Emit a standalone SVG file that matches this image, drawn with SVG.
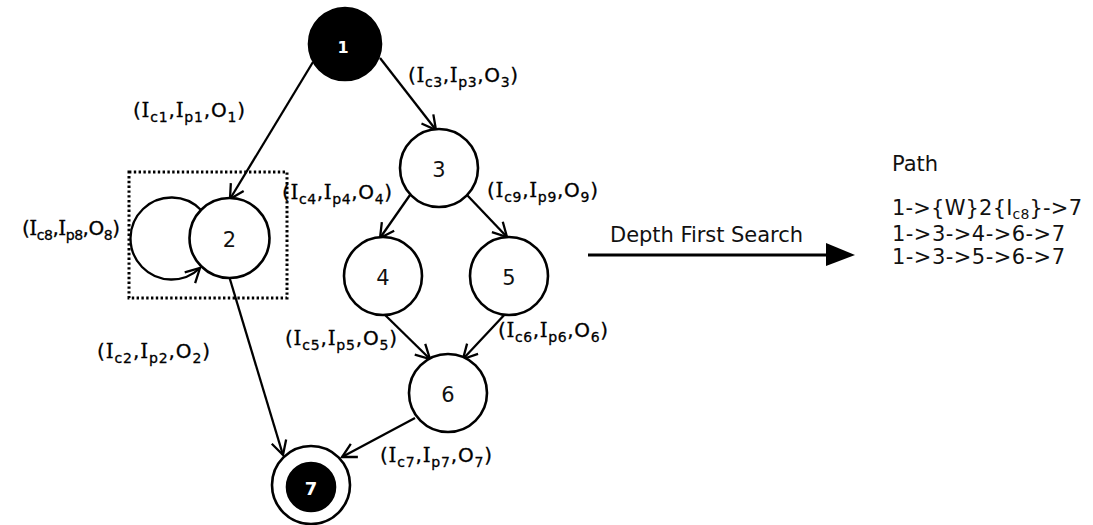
<svg xmlns="http://www.w3.org/2000/svg" width="1093" height="525" viewBox="0 0 1093 525">
<style>
.nd{fill:#fff;stroke:#000;stroke-width:2.6}
.blk{fill:#000;stroke:#000;stroke-width:2.6}
.num{font-family:"DejaVu Sans",Verdana,sans-serif;font-size:21px;fill:#111;text-anchor:middle}
.wnum{font-family:"DejaVu Sans",Verdana,sans-serif;font-weight:bold;fill:#fff;text-anchor:middle}
.edge{fill:none;stroke:#000;stroke-width:2.3}
.lbl{font-family:"DejaVu Sans",Verdana,sans-serif;font-size:20px;fill:#000;stroke:#000;stroke-width:0.3}
.lbl .I{font-family:"DejaVu Serif","Liberation Serif",serif}
.lbl .s{font-size:14px}
.pt{font-family:"DejaVu Sans",Verdana,sans-serif;font-size:21px;fill:#111}
</style>
<defs>
<marker id="arr" markerUnits="userSpaceOnUse" markerWidth="18" markerHeight="18" refX="15" refY="9" orient="auto">
<path d="M1,1.5 L15,9 L1,16.5" fill="none" stroke="#000" stroke-width="2.3"/>
</marker>
</defs>

<rect id="box" x="129" y="172" width="158" height="126" fill="none" stroke="#000" stroke-width="3" stroke-dasharray="2.4 2.4"/>

<g id="connectors">
<line class="edge" x1="313" y1="62" x2="230" y2="199" marker-end="url(#arr)"/>
<line class="edge" x1="380" y1="58" x2="436" y2="130" marker-end="url(#arr)"/>
<line class="edge" x1="410" y1="195" x2="380" y2="238" marker-end="url(#arr)"/>
<line class="edge" x1="467" y1="195" x2="507" y2="237" marker-end="url(#arr)"/>
<line class="edge" x1="383" y1="313" x2="430" y2="359" marker-end="url(#arr)"/>
<line class="edge" x1="507" y1="312" x2="463" y2="359" marker-end="url(#arr)"/>
<line class="edge" x1="415" y1="418" x2="342" y2="457" marker-end="url(#arr)"/>
<line class="edge" x1="229" y1="276" x2="283" y2="455" marker-end="url(#arr)"/>
<path class="edge" d="M201,210 A41,41 0 1 0 200,268" marker-end="url(#arr)"/>
<g id="dfs-arrow">
<line x1="588" y1="255" x2="830" y2="255" stroke="#000" stroke-width="3"/>
<polygon points="826,243 855,255 826,266" fill="#000"/>
</g>
</g>

<g id="node1"><circle class="blk" cx="345" cy="44" r="36"/><text class="wnum" x="343" y="53" font-size="16">1</text></g>
<g id="node2"><circle class="nd" cx="229.5" cy="238" r="40"/><text class="num" x="229.5" y="247">2</text></g>
<g id="node3"><circle class="nd" cx="439" cy="168" r="39"/><text class="num" x="439" y="177">3</text></g>
<g id="node4"><circle class="nd" cx="383" cy="276" r="39"/><text class="num" x="383" y="285">4</text></g>
<g id="node5"><circle class="nd" cx="509" cy="276" r="39"/><text class="num" x="509" y="285">5</text></g>
<g id="node6"><circle class="nd" cx="448" cy="393" r="39"/><text class="num" x="448" y="402">6</text></g>
<g id="node7"><circle class="nd" cx="311" cy="485" r="39"/><circle class="blk" cx="311" cy="487" r="24"/><text class="wnum" x="311" y="495" font-size="18">7</text></g>

<g id="labels">
<text class="lbl" x="133" y="117" textLength="112">(<tspan class="I">I</tspan><tspan class="s" dy="5">c1</tspan><tspan dy="-5">,</tspan><tspan class="I">I</tspan><tspan class="s" dy="5">p1</tspan><tspan dy="-5">,O</tspan><tspan class="s" dy="5">1</tspan><tspan dy="-5">)</tspan></text>
<text class="lbl" x="408" y="82" textLength="110">(<tspan class="I">I</tspan><tspan class="s" dy="5">c3</tspan><tspan dy="-5">,</tspan><tspan class="I">I</tspan><tspan class="s" dy="5">p3</tspan><tspan dy="-5">,O</tspan><tspan class="s" dy="5">3</tspan><tspan dy="-5">)</tspan></text>
<text class="lbl" x="282" y="199" textLength="110">(<tspan class="I">I</tspan><tspan class="s" dy="5">c4</tspan><tspan dy="-5">,</tspan><tspan class="I">I</tspan><tspan class="s" dy="5">p4</tspan><tspan dy="-5">,O</tspan><tspan class="s" dy="5">4</tspan><tspan dy="-5">)</tspan></text>
<text class="lbl" x="487" y="197" textLength="111">(<tspan class="I">I</tspan><tspan class="s" dy="5">c9</tspan><tspan dy="-5">,</tspan><tspan class="I">I</tspan><tspan class="s" dy="5">p9</tspan><tspan dy="-5">,O</tspan><tspan class="s" dy="5">9</tspan><tspan dy="-5">)</tspan></text>
<text class="lbl" x="22" y="235" font-size="17" textLength="98">(<tspan class="I">I</tspan><tspan class="s" dy="5" font-size="12">c8</tspan><tspan dy="-5">,</tspan><tspan class="I">I</tspan><tspan class="s" dy="5" font-size="12">p8</tspan><tspan dy="-5">,O</tspan><tspan class="s" dy="5" font-size="12">8</tspan><tspan dy="-5">)</tspan></text>
<text class="lbl" x="97" y="358" textLength="113">(<tspan class="I">I</tspan><tspan class="s" dy="5">c2</tspan><tspan dy="-5">,</tspan><tspan class="I">I</tspan><tspan class="s" dy="5">p2</tspan><tspan dy="-5">,O</tspan><tspan class="s" dy="5">2</tspan><tspan dy="-5">)</tspan></text>
<text class="lbl" x="285" y="345" textLength="112">(<tspan class="I">I</tspan><tspan class="s" dy="5">c5</tspan><tspan dy="-5">,</tspan><tspan class="I">I</tspan><tspan class="s" dy="5">p5</tspan><tspan dy="-5">,O</tspan><tspan class="s" dy="5">5</tspan><tspan dy="-5">)</tspan></text>
<text class="lbl" x="498" y="337" textLength="110">(<tspan class="I">I</tspan><tspan class="s" dy="5">c6</tspan><tspan dy="-5">,</tspan><tspan class="I">I</tspan><tspan class="s" dy="5">p6</tspan><tspan dy="-5">,O</tspan><tspan class="s" dy="5">6</tspan><tspan dy="-5">)</tspan></text>
<text class="lbl" x="380" y="462" textLength="112">(<tspan class="I">I</tspan><tspan class="s" dy="5">c7</tspan><tspan dy="-5">,</tspan><tspan class="I">I</tspan><tspan class="s" dy="5">p7</tspan><tspan dy="-5">,O</tspan><tspan class="s" dy="5">7</tspan><tspan dy="-5">)</tspan></text>
</g>

<g id="dfs-label"><text class="pt" x="610" y="242" font-size="20" textLength="193">Depth First Search</text></g>

<g id="paths">
<text class="pt" x="892" y="171" font-size="17">Path</text>
<text class="pt" x="892" y="215" textLength="190">1-&gt;{W}2{I<tspan font-size="14" dy="4">c8</tspan><tspan dy="-4">}-&gt;7</tspan></text>
<text class="pt" x="892" y="241" textLength="173">1-&gt;3-&gt;4-&gt;6-&gt;7</text>
<text class="pt" x="892" y="264" textLength="173">1-&gt;3-&gt;5-&gt;6-&gt;7</text>
</g>
</svg>
